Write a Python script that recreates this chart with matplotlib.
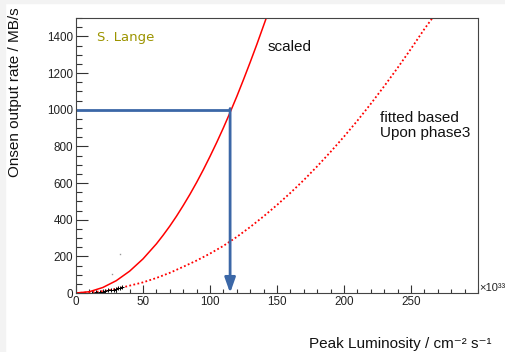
import matplotlib
matplotlib.use('Agg')
import matplotlib.pyplot as plt
from matplotlib.patches import Rectangle
from matplotlib.ticker import MultipleLocator

plt.rcParams['font.family'] = ['Liberation Sans', 'DejaVu Sans']

# kurve "scaled"
scaled_x = [0, 10, 20, 30, 40, 50, 60, 65, 70, 75, 80, 85, 90, 95, 100, 105, 110, 115, 120, 125, 130, 135, 142]
scaled_y = [0, 7, 30, 67, 119, 186, 268, 315, 365, 419, 477, 538, 603, 672, 745, 821, 901, 985, 1072, 1164, 1259, 1357, 1500]

# kurve "fitted based Upon phase3"
fitted_x = [0, 10, 20, 30, 40, 50, 60, 70, 80, 90, 100, 110, 120, 130, 140, 150, 160, 170, 180,
            190, 200, 210, 220, 230, 240, 250, 260, 266]
fitted_y = [0, 3, 10, 22, 40, 58, 82, 110, 143, 177, 215, 257, 306, 360, 418, 480, 546, 616, 691,
            770, 853, 940, 1032, 1128, 1228, 1332, 1440, 1500]

# messpunkte phase3
data_x = [12, 15, 18, 20, 22, 24, 26, 28, 30, 31, 33, 34]
data_y = [2, 4, 6, 8, 10, 14, 15, 18, 22, 25, 28, 35]
stray_x = [27, 33]
stray_y = [102, 211]

target_rate = 1000
target_lumi = 115

fig = plt.figure(figsize=(5.06, 3.52), dpi=100)
fig.patches.append(Rectangle((0, 0), 5 / 506, 1, transform=fig.transFigure, color='#f3f3f3', zorder=0))
fig.patches.append(Rectangle((0, 1 - 3 / 352), 1, 3 / 352, transform=fig.transFigure, color='#f3f3f3', zorder=0))

ax = fig.add_axes([76 / 506, 59 / 352, 402 / 506, 275 / 352])

ax.plot(scaled_x, scaled_y, color='red', lw=1.1)
ax.plot(fitted_x, fitted_y, color='red', lw=1.3, linestyle=(0, (1, 1.3)))
ax.plot(data_x, data_y, 'k+', ms=3, mew=0.7)
ax.plot(stray_x, stray_y, 's', color='#999999', ms=1, mew=0)

blue = '#3b67a7'
ax.plot([0, target_lumi], [target_rate, target_rate], color=blue, lw=2, solid_capstyle='butt')
ax.annotate('', xy=(target_lumi, 0), xytext=(target_lumi, target_rate + 6),
            arrowprops=dict(arrowstyle='-|>,head_length=0.9,head_width=0.32',
                            color=blue, lw=2, shrinkA=0, shrinkB=0))

ax.set_xlim(0, 300)
ax.set_ylim(0, 1500)

ax.xaxis.set_minor_locator(MultipleLocator(10))
ax.yaxis.set_minor_locator(MultipleLocator(50))
ax.set_yticks([0, 200, 400, 600, 800, 1000, 1200, 1400])
ax.set_xticks([0, 50, 100, 150, 200, 250])

ax.tick_params(axis='both', which='both', direction='in', top=False, right=False,
               labelsize=8.4, labelcolor='#222222', color='#333333')
ax.tick_params(axis='y', which='major', length=8.6, width=0.8, pad=2)
ax.tick_params(axis='y', which='minor', length=4.3, width=0.8)
ax.tick_params(axis='x', which='major', length=6.1, width=0.8, pad=2)
ax.tick_params(axis='x', which='minor', length=3.2, width=0.8)
for s in ax.spines.values():
    s.set_color('#444444')
    s.set_linewidth(0.8)

fig.text(97 / 506, 1 - 38 / 352, 'S. Lange', color='#9c9400', fontsize=9.5,
         family=['DejaVu Sans'], ha='left', va='center')
fig.text(268 / 506, 1 - 47 / 352, 'scaled', fontsize=11, color='#111111', ha='left', va='center')
fig.text(380 / 506, 1 - 111 / 352, 'fitted based\nUpon phase3', fontsize=11, color='#111111',
         ha='left', va='top', linespacing=1.05)
fig.text(479 / 506, 1 - 288 / 352, '×10³³', fontsize=8, color='#222222', ha='left', va='center')

fig.text(15 / 506, 1 - 7 / 352, 'Onsen output rate / MB/s', rotation=90, fontsize=11,
         ha='center', va='top', color='#111111')
fig.text(492 / 506, 1 - 344 / 352, 'Peak Luminosity / cm⁻² s⁻¹', fontsize=11,
         ha='right', va='center', color='#111111')

fig.savefig('out.png', dpi=100)
